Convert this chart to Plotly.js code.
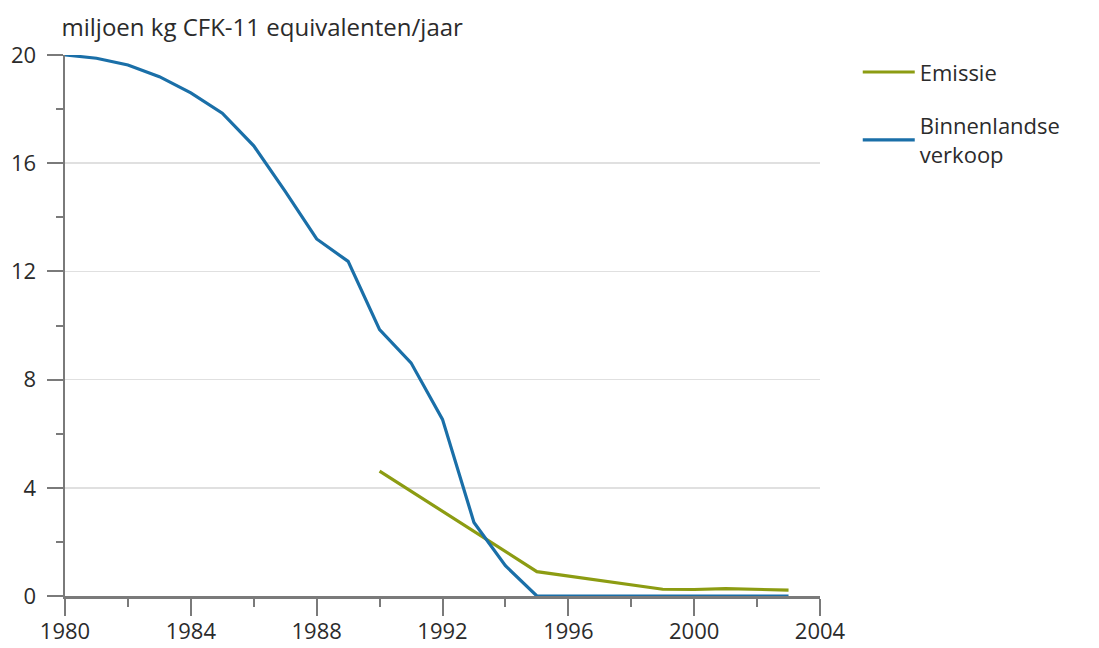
<!DOCTYPE html>
<html>
<head>
<meta charset="utf-8">
<script src="https://cdn.plot.ly/plotly-3.0.1.min.js"></script>
<style>html,body{margin:0;padding:0;background:#fff;}#chart{width:1099px;height:648px;}</style>
</head>
<body>
<div id="chart"></div>
<script>
// Data
const yearsSales = [1980,1981,1982,1983,1984,1985,1986,1987,1988,1989,1990,1991,1992,1993,1994,1995,1996,1997,1998,1999,2000,2001,2002,2003];
const binnenlandseVerkoop = [20.0,19.88,19.63,19.2,18.6,17.85,16.64,14.96,13.2,12.37,9.85,8.62,6.53,2.72,1.12,0,0,0,0,0,0,0,0,0];
const yearsEmission = [1990,1995,1999,2000,2001,2002,2003];
const emissie = [4.62,0.9,0.25,0.24,0.27,0.25,0.22];
const seriesNames = ["Emissie", "Binnenlandse<br>verkoop"];
const yTitle = "miljoen kg CFK-11 equivalenten/jaar";
const xTicks = [1980,1984,1988,1992,1996,2000,2004];
const yTicks = [0,4,8,12,16,20];

const fontFam = '"Open Sans", "Noto Sans", sans-serif';
const textCol = '#2b2b2b';
const axisCol = '#7a7a7a';

const traces = [
  {x: yearsEmission, y: emissie, name: seriesNames[0], type: 'scatter', mode: 'lines',
   line: {color: '#8c9c12', width: 3.2}, legendgroup: 'a'},
  {x: yearsSales, y: binnenlandseVerkoop, name: seriesNames[1], type: 'scatter', mode: 'lines',
   line: {color: '#1a6fa8', width: 3.2}, legendgroup: 'b'}
];

const layout = {
  width: 1099, height: 648,
  margin: {l: 65, r: 279, t: 55, b: 52},
  paper_bgcolor: '#fff', plot_bgcolor: '#fff',
  font: {family: fontFam, size: 22, color: textCol},
  title: {text: yTitle, x: 0.056, xref: 'container', xanchor: 'left', y: 0.958, yref: 'container', yanchor: 'middle',
          font: {family: fontFam, size: 24, color: textCol}},
  showlegend: true,
  legend: {x: 1.05, xanchor: 'left', y: 1.007, yanchor: 'top', traceorder: 'grouped', tracegroupgap: 22,
           itemwidth: 52,
           font: {family: fontFam, size: 22, color: textCol}, bgcolor: 'rgba(0,0,0,0)'},
  xaxis: {range: [1980, 2004], tickvals: xTicks, ticktext: xTicks.map(String),
          showgrid: false, zeroline: false, showline: true, linecolor: axisCol, linewidth: 2.5,
          ticks: 'outside', ticklen: 17, tickwidth: 2, tickcolor: axisCol,
          minor: {dtick: 2, tick0: 1980, ticks: 'outside', ticklen: 8, tickwidth: 2, tickcolor: axisCol},
          ticklabelstandoff: -3,
          tickfont: {family: fontFam, size: 22, color: textCol}, fixedrange: true},
  yaxis: {range: [0, 20], tickvals: yTicks, ticktext: yTicks.map(String),
          showgrid: true, gridcolor: '#e0e0e0', gridwidth: 1.5, zeroline: false,
          showline: true, linecolor: axisCol, linewidth: 2.5,
          ticks: 'outside', ticklen: 16, tickwidth: 2, tickcolor: axisCol,
          minor: {dtick: 2, tick0: 0, ticks: 'outside', ticklen: 7, tickwidth: 2, tickcolor: axisCol},
          ticklabelstandoff: 6,
          tickfont: {family: fontFam, size: 22, color: textCol}, fixedrange: true}
};

Plotly.newPlot('chart', traces, layout, {displayModeBar: false, staticPlot: true});
</script>
</body>
</html>
